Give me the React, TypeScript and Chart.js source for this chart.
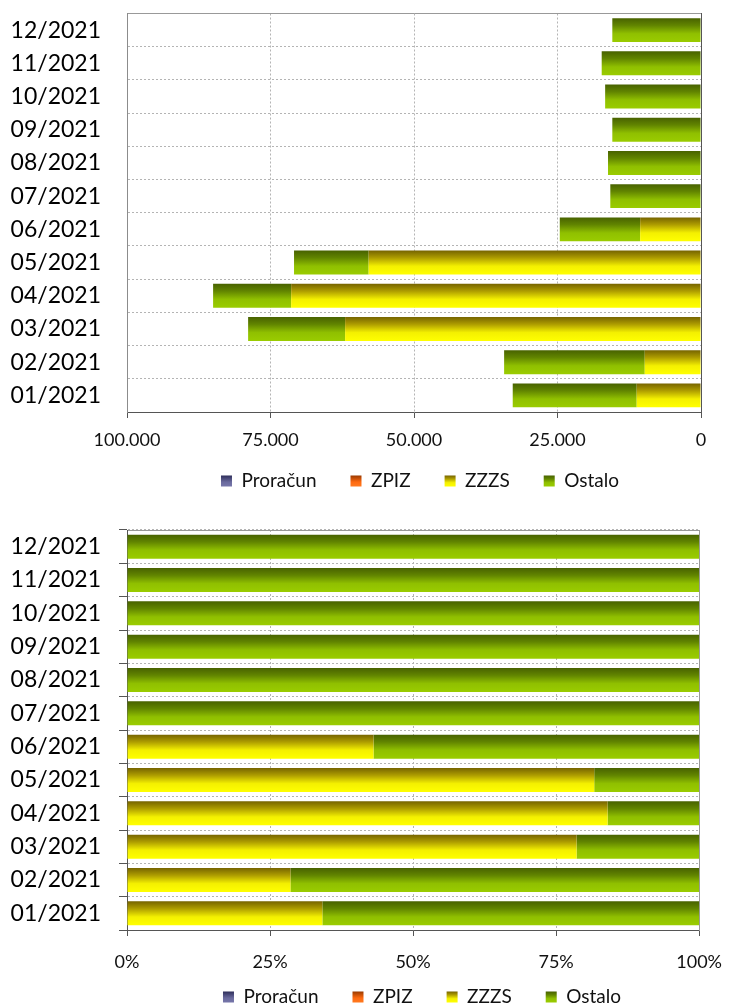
import React, { useEffect, useRef } from "react";
import { Chart, registerables } from "chart.js";

Chart.register(...registerables);

// ---------- data ----------
const MONTHS = [
  "01/2021", "02/2021", "03/2021", "04/2021", "05/2021", "06/2021",
  "07/2021", "08/2021", "09/2021", "10/2021", "11/2021", "12/2021",
];
const SERIES_NAMES = ["Proračun", "ZPIZ", "ZZZS", "Ostalo"];
const PRORACUN = [0, 0, 0, 0, 0, 0, 0, 0, 0, 0, 0, 0];
const ZPIZ = [0, 0, 0, 0, 0, 0, 0, 0, 0, 0, 0, 0];
const ZZZS = [11200, 9800, 62000, 71400, 57900, 10600, 0, 0, 0, 0, 0, 0];
const OSTALO = [21600, 24500, 16900, 13600, 13000, 14000, 15800, 16200, 15450, 16700, 17300, 15450];
const ABS_TICKS = [0, 25000, 50000, 75000, 100000];
const PCT_TICKS = [0, 25, 50, 75, 100];

// ---------- styles ----------
const FONT = "Lato, 'Open Sans', 'Noto Sans', sans-serif";
const BAR_PCT = 0.72;
type Stops = [number, string][];
const STOPS: Record<string, Stops> = {
  "Proračun": [[0, "#2e2e5a"], [0.6, "#6a6a9e"], [1, "#7676aa"]],
  ZPIZ: [[0, "#9a3a00"], [0.6, "#ff6a10"], [1, "#ff7a20"]],
  ZZZS: [[0, "#766400"], [0.3, "#ad9c00"], [0.65, "#f4f000"], [1, "#ffff00"]],
  Ostalo: [[0, "#486200"], [0.3, "#618400"], [0.65, "#90c000"], [1, "#9acc00"]],
};
const SOLID: Record<string, string> = {
  "Proračun": "#5a5a8e",
  ZPIZ: "#e8600a",
  ZZZS: "#e0dc00",
  Ostalo: "#7aa600",
};

function fmtThousands(v: number): string {
  return String(Math.round(v)).replace(/\B(?=(\d{3})+(?!\d))/g, ".");
}

function barFill(name: string) {
  return (c: any) => {
    const chart = c.chart;
    const y = chart.scales && chart.scales.y;
    if (c.type !== "data" || !y || !chart.chartArea || c.dataIndex === undefined) return SOLID[name];
    const center = y.getPixelForValue(c.dataIndex);
    const step = y.height / MONTHS.length;
    const half = (step * BAR_PCT) / 2;
    if (!isFinite(center) || !isFinite(half) || half <= 0) return SOLID[name];
    const g = chart.ctx.createLinearGradient(0, center - half, 0, center + half);
    STOPS[name].forEach(([o, col]) => g.addColorStop(o, col));
    return g;
  };
}

// places the legend row at a given centre and paints gradient boxes
function legendPlacer(cx: number, cy: number) {
  return {
    id: "legendPlacer",
    afterLayout(chart: any) {
      const lg = chart.legend;
      if (!lg) return;
      const pad = lg.options.labels.padding;
      const fs = lg.options.labels.font.size;
      const h = lg.bottom - lg.top;
      const w = lg.right - lg.left;
      const top = cy - fs / 2 - pad;
      lg.top = top;
      lg.bottom = top + h;
      lg.left = cx - w / 2;
      lg.right = cx + w / 2;
    },
    beforeDraw(chart: any) {
      const lg = chart.legend;
      if (!lg || !lg.legendItems) return;
      const boxH = lg.options.labels.boxHeight;
      const boxTop = cy - boxH / 2;
      lg.legendItems.forEach((it: any) => {
        const st = STOPS[it.text];
        if (!st) return;
        const g = chart.ctx.createLinearGradient(0, boxTop, 0, boxTop + boxH);
        st.forEach(([o, col]) => g.addColorStop(o, col));
        it.fillStyle = g;
      });
    },
  };
}

function buildConfig(percent: boolean): any {
  const totals = MONTHS.map((_, i) => PRORACUN[i] + ZPIZ[i] + ZZZS[i] + OSTALO[i]);
  const conv = (arr: number[]) => (percent ? arr.map((v, i) => (totals[i] ? (v / totals[i]) * 100 : 0)) : arr);
  const raw = [PRORACUN, ZPIZ, ZZZS, OSTALO];
  const datasets = SERIES_NAMES.map((name, k) => ({
    label: name,
    data: conv(raw[k]),
    backgroundColor: barFill(name),
    borderWidth: 0,
    barPercentage: BAR_PCT,
    categoryPercentage: 1,
  }));

  const gridColor = "#b4b4b4";
  const dark = "#555555";
  const light = "#999999";

  return {
    type: "bar",
    data: { labels: MONTHS, datasets },
    plugins: [percent ? legendPlacer(422, 492) : legendPlacer(420, 481)],
    options: {
      indexAxis: "y",
      animation: false,
      responsive: false,
      maintainAspectRatio: false,
      layout: {
        padding: percent
          ? { left: 0, right: 0, top: 25, bottom: 0 }
          : { left: 0, right: 0, top: 13.5, bottom: 0 },
      },
      plugins: {
        tooltip: { enabled: false },
        legend: {
          display: true,
          position: "bottom",
          labels: {
            boxWidth: 11,
            boxHeight: 11,
            padding: 34,
            color: "#111",
            font: { family: FONT, size: 19 },
          },
        },
      },
      scales: {
        x: {
          type: "linear",
          stacked: true,
          reverse: !percent,
          min: 0,
          max: percent ? 100 : 100000,
          afterBuildTicks: (s: any) => {
            s.ticks = (percent ? PCT_TICKS : ABS_TICKS).map((v) => ({ value: v }));
          },
          afterFit: (s: any) => {
            s.height = 45;
          },
          ticks: {
            autoSkip: false,
            maxRotation: 0,
            padding: percent ? 15 : 11,
            color: "#111",
            font: { family: FONT, size: 18 },
            callback: (v: any) => (percent ? v + "%" : fmtThousands(Number(v))),
          },
          grid: {
            color: gridColor,
            lineWidth: 1,
            drawTicks: true,
            tickLength: 6,
            tickColor: dark,
            tickWidth: 1,
          },
          border: { display: true, color: dark, width: 1, dash: [2, 2] },
        },
        x2: {
          type: "linear",
          position: "top",
          display: true,
          ticks: { display: false },
          grid: { display: false, drawTicks: false },
          border: { display: true, color: light, width: 1 },
        },
        y: {
          type: "category",
          stacked: true,
          reverse: true,
          position: "left",
          afterFit: (s: any) => {
            s.width = 127;
            s.paddingTop = 0;
            s.paddingBottom = 0;
          },
          ticks: {
            padding: percent ? 18 : 26,
            color: "#000",
            font: { family: FONT, size: 23 },
          },
          grid: {
            offset: true,
            color: gridColor,
            lineWidth: 1,
            drawTicks: percent,
            tickLength: 8,
            tickColor: dark,
            tickWidth: 1,
          },
          border: { display: true, color: percent ? dark : "#8c8c8c", width: 1, dash: [2, 2] },
        },
        y2: {
          type: "category",
          position: "right",
          display: true,
          afterFit: (s: any) => {
            s.width = percent ? 28 : 36;
            s.paddingTop = 0;
            s.paddingBottom = 0;
          },
          ticks: { display: false },
          grid: { display: false, drawTicks: false },
          border: { display: true, color: percent ? light : dark, width: 1 },
        },
      },
    },
  };
}

// canvas heights: chart bottom + x-axis box (45) + legend box (19 + 34 + 10)
const TOP_H = 412 + 45 + 63;
const BOT_TOP = 505;
const BOT_H = 425 + 45 + 63;

export default function App() {
  const topRef = useRef<HTMLCanvasElement>(null);
  const botRef = useRef<HTMLCanvasElement>(null);

  useEffect(() => {
    Chart.defaults.font.family = FONT;
    const c1 = new Chart(topRef.current as HTMLCanvasElement, buildConfig(false));
    const c2 = new Chart(botRef.current as HTMLCanvasElement, buildConfig(true));
    return () => {
      c1.destroy();
      c2.destroy();
    };
  }, []);

  return (
    <div
      style={{
        position: "fixed",
        left: 0,
        top: 0,
        width: 737,
        height: 1004,
        overflow: "hidden",
        background: "#ffffff",
      }}
    >
      <canvas
        ref={topRef}
        width={737}
        height={TOP_H}
        style={{ position: "absolute", left: 0, top: 0, width: 737, height: TOP_H, display: "block" }}
      />
      <canvas
        ref={botRef}
        width={737}
        height={BOT_H}
        style={{ position: "absolute", left: 0, top: BOT_TOP, width: 737, height: BOT_H, display: "block" }}
      />
    </div>
  );
}
